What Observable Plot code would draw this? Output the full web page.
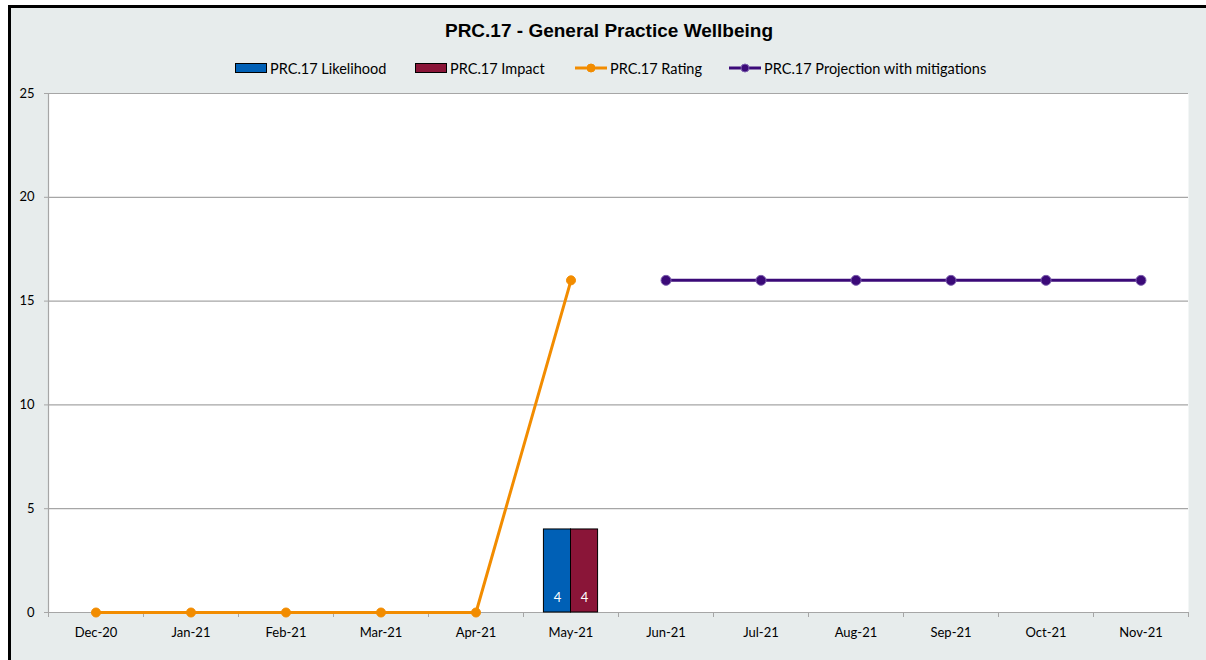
<!DOCTYPE html>
<html><head><meta charset="utf-8">
<script src="https://cdn.jsdelivr.net/npm/d3@7"></script>
<script src="https://cdn.jsdelivr.net/npm/@observablehq/plot@0.6"></script>
<style>
html,body{margin:0;padding:0;background:#fff;overflow:hidden;width:1206px;height:660px}
#frame{position:absolute;left:8px;top:5px;width:1195px;height:655px;border-top:3px solid #000;border-left:3px solid #000;border-right:none;background:#E7ECEC;overflow:hidden}
#title{position:absolute;top:12px;left:0;width:1196px;text-align:center;font-family:"Liberation Sans",Arial,sans-serif;font-weight:bold;font-size:19px;color:#000}
.leg{position:absolute;top:52px;height:16px;display:flex;align-items:center;font-family:Lato,"Open Sans",sans-serif;font-size:14.5px;color:#000;white-space:nowrap}
.leg svg{margin-right:3px}
#chart{position:absolute;left:0;top:77px}
</style></head>
<body>
<div id="frame">
  <div id="title">PRC.17 - General Practice Wellbeing</div>
  <div id="legend"></div>
  <div id="chart"></div>
</div>
<script>
const months = ["Dec-20","Jan-21","Feb-21","Mar-21","Apr-21","May-21","Jun-21","Jul-21","Aug-21","Sep-21","Oct-21","Nov-21"];
const yTicks = [0,5,10,15,20,25];
const barMonths = ["May-21"];
const likelihoodValues = [4];
const impactValues = [4];
const ratingMonths = ["Dec-20","Jan-21","Feb-21","Mar-21","Apr-21","May-21"];
const ratingValues = [0,0,0,0,0,16];
const projectionMonths = ["Jun-21","Jul-21","Aug-21","Sep-21","Oct-21","Nov-21"];
const projectionValues = [16,16,16,16,16,16];
const seriesNames = ["PRC.17 Likelihood","PRC.17 Impact","PRC.17 Rating","PRC.17 Projection with mitigations"];
const colors = {likelihood:"#0060B6", impact:"#8A1538", rating:"#F28C00", projection:"#3B0A78", projectionDot:"#3B0A78", projectionDotStroke:"#7C5FAE"};

const idx = m => months.indexOf(m);
const barW = 0.285;
const bars = [
  ...barMonths.map((m,i)=>({m, v:likelihoodValues[i], x1:idx(m)-barW, x2:idx(m), c:colors.likelihood})),
  ...barMonths.map((m,i)=>({m, v:impactValues[i], x1:idx(m), x2:idx(m)+barW, c:colors.impact}))
];
const rating = ratingMonths.map((m,i)=>({x:idx(m), y:ratingValues[i]}));
const projection = projectionMonths.map((m,i)=>({x:idx(m), y:projectionValues[i]}));
const boundaries = d3.range(months.length+1).map(i=>i-0.5);

// legend
const legend = document.getElementById("legend");
const legItems = [
  {left:224, type:"rect", color:colors.likelihood},
  {left:404, type:"rect", color:colors.impact},
  {left:564, type:"line", color:colors.rating, dot:colors.rating, dotStroke:colors.rating},
  {left:718, type:"line", color:colors.projection, dot:colors.projectionDot, dotStroke:colors.projectionDotStroke}
];
legItems.forEach((it,k)=>{
  const d = document.createElement("div");
  d.className="leg"; d.style.left = it.left+"px";
  let sw;
  if (it.type==="rect") sw = `<svg width="32" height="12"><rect x="0.5" y="1.5" width="31" height="9" fill="${it.color}" stroke="#000" stroke-width="1"/></svg>`;
  else sw = `<svg width="32" height="12"><line x1="0" x2="32" y1="6" y2="6" stroke="${it.color}" stroke-width="3"/><circle cx="16" cy="6" r="4" fill="${it.dot}" stroke="${it.dotStroke}" stroke-width="1"/></svg>`;
  d.innerHTML = sw + `<span>${seriesNames[k]}</span>`;
  legend.appendChild(d);
});

const chart = Plot.plot({
  width: 1195, height: 575,
  marginTop: 8, marginBottom: 48, marginLeft: 37, marginRight: 18,
  style: {background:"transparent", fontFamily:"Lato, 'Open Sans', sans-serif", fontSize:"13px", color:"#000", overflow:"visible"},
  x: {type:"linear", domain:[-0.5, months.length-0.5], axis:null},
  y: {domain:[0,25], axis:null},
  marks: [
    Plot.frame({fill:"white", stroke:"none"}),
    Plot.ruleY(yTicks, {stroke:"#a6a6a6", strokeWidth:1.2}),
    Plot.ruleX([-0.5], {stroke:"#a6a6a6", strokeWidth:1.2}),
    Plot.axisY({ticks:yTicks, tickSize:4, tickPadding:10, stroke:"#a6a6a6", fill:"#000", label:null}),
    Plot.axisX({ticks:boundaries, tickSize:5, tickFormat:()=>"", stroke:"#a6a6a6", label:null}),
    Plot.axisX({ticks:months.map((_,i)=>i), tickSize:0, tickPadding:15, tickFormat:i=>months[i], fill:"#000", label:null}),
    Plot.rectY(bars, {x1:"x1", x2:"x2", y1:0, y2:"v", fill:"c", stroke:"#000", strokeWidth:1}),
    Plot.text(bars, {x:d=>(d.x1+d.x2)/2, y:0, text:d=>String(d.v), fill:"white", dy:-15, fontSize:13}),
    Plot.line(rating, {x:"x", y:"y", stroke:colors.rating, strokeWidth:3}),
    Plot.dot(rating, {x:"x", y:"y", r:4.5, fill:colors.rating, stroke:colors.rating, strokeWidth:1}),
    Plot.line(projection, {x:"x", y:"y", stroke:colors.projection, strokeWidth:3}),
    Plot.dot(projection, {x:"x", y:"y", r:5, fill:colors.projectionDot, stroke:colors.projectionDotStroke, strokeWidth:1})
  ]
});
document.getElementById("chart").appendChild(chart);
</script>
</body></html>
